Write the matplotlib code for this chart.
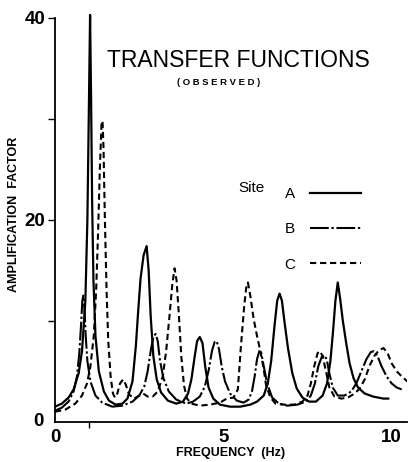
import matplotlib
matplotlib.use("Agg")
import matplotlib.pyplot as plt
import numpy as np
from matplotlib.ticker import FixedLocator

plt.rcParams['font.family'] = ['Liberation Sans', 'DejaVu Sans']

# site A (solid): frequency (Hz), amplification
freq_a = [0.0, 0.2, 0.4, 0.55, 0.7, 0.8, 0.9, 0.96, 1.0, 1.04, 1.07, 1.1, 1.14, 1.2, 1.3,
          1.45, 1.6, 1.8, 2.0, 2.15, 2.3, 2.4, 2.47, 2.54, 2.63, 2.72, 2.78, 2.84, 2.92,
          3.02, 3.15, 3.35, 3.6, 3.8, 3.95, 4.05, 4.15, 4.22, 4.3, 4.38, 4.46, 4.56, 4.7,
          4.9, 5.2, 5.5, 5.8, 6.0, 6.2, 6.32, 6.42, 6.52, 6.6, 6.67, 6.74, 6.82, 6.92,
          7.05, 7.18, 7.35, 7.55, 7.75, 7.95, 8.08, 8.18, 8.26, 8.33, 8.4, 8.47, 8.55,
          8.65, 8.75, 8.87, 9.0, 9.2, 9.45, 9.75, 9.9]
amp_a = [1.5, 1.8, 2.4, 3.2, 4.8, 7.0, 12.0, 20.0, 30.0, 40.3, 32.0, 22.0, 14.0, 8.5, 5.0,
         3.0, 2.1, 1.7, 1.8, 2.3, 4.0, 7.5, 11.0, 14.2, 16.5, 17.4, 15.0, 10.5, 6.5,
         4.2, 2.9, 2.1, 1.8, 2.0, 2.8, 4.2, 6.5, 8.0, 8.4, 7.8, 5.5, 3.4, 2.3,
         1.7, 1.5, 1.5, 1.7, 2.0, 2.6, 3.8, 6.0, 9.5, 12.0, 12.7, 12.0, 9.8, 7.3,
         4.8, 3.3, 2.4, 2.0, 2.0, 2.6, 3.8, 6.0, 9.0, 12.0, 13.8, 12.2, 10.0,
         7.8, 5.8, 4.3, 3.4, 2.8, 2.5, 2.3, 2.3]

# site B (dash-dot)
freq_b = [0.0, 0.2, 0.4, 0.55, 0.65, 0.72, 0.77, 0.81, 0.84, 0.87, 0.91, 0.96, 1.05, 1.2,
          1.4, 1.7, 2.0, 2.3, 2.5, 2.65, 2.75, 2.85, 2.93, 2.99, 3.05, 3.12, 3.22, 3.38,
          3.6, 3.9, 4.1, 4.3, 4.45, 4.57, 4.66, 4.74, 4.8, 4.87, 4.95, 5.05, 5.2, 5.4,
          5.6, 5.75, 5.85, 5.93, 6.0, 6.07, 6.13, 6.2, 6.3, 6.45, 6.65, 6.9, 7.2, 7.45,
          7.6, 7.72, 7.82, 7.92, 8.0, 8.07, 8.15, 8.25, 8.4, 8.6, 8.8, 8.95, 9.1, 9.25,
          9.38, 9.47, 9.57, 9.7, 9.85, 10.0, 10.15, 10.3]
amp_b = [1.1, 1.4, 2.0, 3.0, 4.5, 6.8, 9.5, 12.0, 12.5, 11.5, 8.5, 6.0, 4.0, 2.6,
         1.9, 1.5, 1.6, 2.0, 2.6, 3.5, 5.0, 7.2, 8.5, 8.7, 8.0, 6.0, 4.3, 3.0,
         2.2, 1.8, 2.0, 2.5, 3.5, 5.2, 7.0, 7.9, 8.0, 7.2, 5.5, 4.0, 2.8, 2.1,
         1.9, 2.2, 3.0, 4.5, 6.2, 7.0, 6.8, 5.5, 3.8, 2.4, 1.8, 1.6, 1.7, 2.0,
         2.6, 3.8, 5.5, 6.4, 6.6, 6.2, 4.8, 3.4, 2.6, 2.6, 3.0, 3.8, 5.0, 6.2,
         6.9, 7.0, 6.6, 5.5, 4.5, 3.8, 3.4, 3.2]

# site C (dashed)
freq_c = [0.0, 0.3, 0.6, 0.8, 0.95, 1.05, 1.15, 1.22, 1.28, 1.33, 1.38, 1.41, 1.44, 1.48,
          1.53, 1.58, 1.65, 1.72, 1.78, 1.85, 1.93, 2.02, 2.1, 2.2, 2.35, 2.5, 2.62, 2.75,
          2.9, 3.05, 3.2, 3.3, 3.4, 3.48, 3.55, 3.61, 3.68, 3.75, 3.83, 3.92, 4.05, 4.3,
          4.6, 4.9, 5.1, 5.3, 5.43, 5.52, 5.62, 5.68, 5.73, 5.8, 5.9, 6.0, 6.1, 6.2,
          6.27, 6.4, 6.55, 6.8, 7.1, 7.35, 7.5, 7.6, 7.7, 7.8, 7.87, 7.95, 8.05, 8.15,
          8.3, 8.5, 8.7, 8.9, 9.05, 9.2, 9.35, 9.5, 9.63, 9.76, 9.88, 10.0, 10.15, 10.3,
          10.5]
amp_c = [1.0, 1.2, 1.8, 2.6, 3.8, 5.5, 8.5, 13.0, 19.0, 25.0, 29.5, 29.8, 27.0, 20.0,
         13.0, 8.0, 4.5, 2.8, 2.4, 2.8, 3.8, 4.2, 3.7, 2.7, 2.3, 2.6, 2.8, 2.5,
         2.5, 3.0, 4.5, 7.0, 10.5, 13.5, 15.2, 14.0, 10.5, 6.5, 3.6, 2.3, 1.8, 1.6,
         1.7, 1.9, 2.3, 2.4, 3.2, 7.4, 11.5, 13.3, 13.8, 12.5, 10.2, 8.5, 7.0, 5.2,
         3.6, 2.4, 1.8, 1.7, 1.7, 2.0, 2.6, 3.8, 5.5, 6.8, 7.0, 6.5, 5.0, 3.4,
         2.5, 2.3, 2.4, 2.8, 3.3, 4.2, 5.6, 6.6, 7.1, 7.3, 6.8, 5.8, 5.0, 4.5,
         3.9]

sites = ['A', 'B', 'C']
x_ticks = [0, 5, 10]
y_ticks = [0, 20, 40]

fig = plt.figure(figsize=(4.08, 4.62), dpi=100)
ax = fig.add_axes([0.135, 0.087, 0.862, 0.896])

l_a, = ax.plot(freq_a, amp_a, color='black', lw=1.6, ls='-')
l_b, = ax.plot(freq_b, amp_b, color='black', lw=1.5, ls=(0, (9, 1.3, 1.1, 1.3)))
l_c, = ax.plot(freq_c, amp_c, color='black', lw=1.5, ls=(0, (3, 1.8)))

ax.set_xlim(0, 10.45)
ax.set_ylim(0, 41)
ax.spines['top'].set_visible(False)
ax.spines['right'].set_visible(False)
ax.spines['left'].set_bounds(0, 40)
ax.spines['left'].set_linewidth(1.3)
ax.spines['bottom'].set_linewidth(1.3)

ax.xaxis.set_major_locator(FixedLocator(x_ticks))
ax.xaxis.set_minor_locator(FixedLocator([1, 10]))
ax.set_xticklabels([str(t) for t in x_ticks], fontsize=13.5, fontweight='bold')
ax.yaxis.set_major_locator(FixedLocator([10, 20, 30, 40]))
ax.set_yticklabels(['', '20', '', '40'], fontsize=13.5, fontweight='bold')
ax.tick_params(axis='x', which='major', length=0, pad=5)
ax.tick_params(axis='x', which='minor', length=4, width=1)
ax.tick_params(axis='y', length=5, width=1, pad=2)
ax.text(-0.35, 0, '0', fontsize=13.5, fontweight='bold', ha='right', va='center')

ax.set_xlabel('FREQUENCY  (Hz)', fontsize=9, fontweight='bold', labelpad=1)
ax.set_ylabel('AMPLIFICATION  FACTOR', fontsize=9, fontweight='bold')
ax.yaxis.set_label_coords(-0.1, 0.5)

fig.text(0.585, 0.868, 'TRANSFER FUNCTIONS', fontsize=16.5, ha='center', va='center')
fig.text(0.537, 0.822, '( O B S E R V E D )', fontsize=6.8, fontweight='bold',
         ha='center', va='center')

fig.text(0.585, 0.593, 'Site', fontsize=11, ha='left', va='center')
ax.legend([l_a, l_b, l_c], sites, loc='upper left', bbox_to_anchor=(0.662, 0.625),
          bbox_transform=fig.transFigure, frameon=False, markerfirst=False,
          handlelength=3.3, labelspacing=1.4, fontsize=11, handletextpad=1.0)

plt.savefig('out.png', dpi=100)
